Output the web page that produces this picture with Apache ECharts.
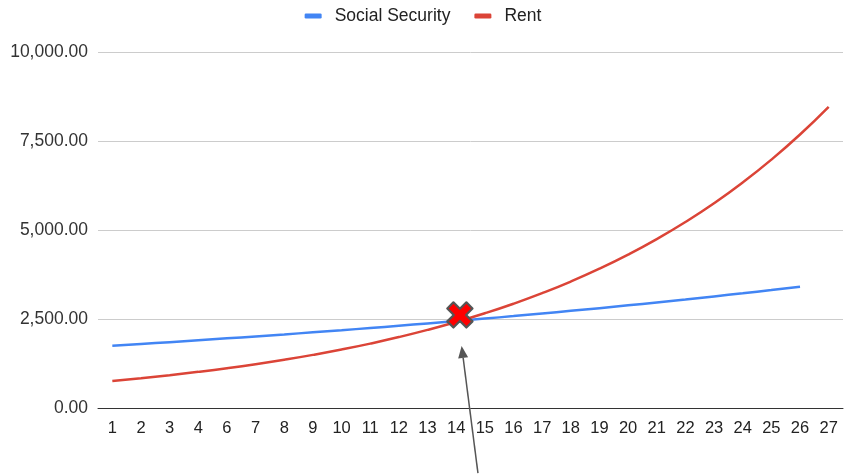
<!DOCTYPE html>
<html>
<head>
<meta charset="utf-8">
<script src="https://cdn.jsdelivr.net/npm/echarts@6/dist/echarts.min.js"></script>
<style>
  html, body { margin: 0; padding: 0; background: #fff; }
  #chart { width: 846px; height: 474px; }
</style>
</head>
<body>
<div id="chart"></div>
<script>
// Period labels along the bottom axis (there is no period 5 in the sheet)
const periods = ['1','2','3','4','6','7','8','9','10','11','12','13','14','15','16','17','18','19','20','21','22','23','24','25','26','27'];

// Monthly Social Security benefit (no value for the last period)
const socialSecurity = [1750, 1799, 1850, 1902, 1956, 2011, 2067, 2126, 2185, 2247, 2310, 2375, 2442,
  2511, 2581, 2654, 2729, 2805, 2884, 2966, 3049, 3135, 3223, 3314, 3407, null];

// Monthly rent
const rent = [760, 837, 922, 1015, 1117, 1230, 1355, 1492, 1643, 1809, 1992, 2194, 2416,
  2660, 2929, 3226, 3552, 3912, 4308, 4744, 5224, 5752, 6335, 6976, 7682, 8460];

// Where the two curves meet (position in period steps, value)
const crossing = [12.13, 2615];

// Pointer arrow to the crossing: from below the axis up to just under the marker
const pointer = { from: [12.76, -1830], to: [12.19, 1740] };

const yTicks = { min: 0, max: 10000, step: 2500 };

const chart = echarts.init(document.getElementById('chart'), null, { renderer: 'canvas' });

const fmt = v => v.toLocaleString('en-US', { minimumFractionDigits: 2, maximumFractionDigits: 2 });

// X marker drawn as a plus rotated by 45 degrees
const crossPath = 'path://M3.4,0 H6.6 V3.4 H10 V6.6 H6.6 V10 H3.4 V6.6 H0 V3.4 H3.4 Z';

chart.setOption({
  animation: false,
  textStyle: { fontFamily: 'Liberation Sans, Arial, sans-serif' },
  legend: {
    top: 2,
    left: 'center',
    itemWidth: 17,
    itemHeight: 5,
    itemGap: 24,
    icon: 'roundRect',
    textStyle: { fontSize: 17.5, color: '#222', padding: [0, 0, 0, 8] },
    data: ['Social Security', 'Rent']
  },
  grid: { left: 98, right: 3, top: 52, bottom: 66, containLabel: false },
  xAxis: [{
    type: 'category',
    data: periods,
    boundaryGap: true,
    axisLine: { lineStyle: { color: '#333', width: 1 } },
    axisTick: { show: false },
    axisLabel: { fontSize: 16.5, color: '#222', margin: 12, interval: 0 }
  }, {
    type: 'value',
    min: -0.5,
    max: periods.length - 0.5,
    show: false
  }],
  yAxis: {
    type: 'value',
    min: yTicks.min,
    max: yTicks.max,
    interval: yTicks.step,
    axisLine: { show: false },
    axisTick: { show: false },
    splitLine: { lineStyle: { color: '#cccccc', width: 1 } },
    axisLabel: { fontSize: 17.5, color: '#333', margin: 10, formatter: fmt }
  },
  series: [{
    name: 'Social Security',
    type: 'line',
    data: socialSecurity,
    smooth: true,
    showSymbol: false,
    symbol: 'none',
    color: '#4285F4',
    lineStyle: { width: 2.5, color: '#4285F4' },
    z: 2
  }, {
    name: 'Rent',
    type: 'line',
    data: rent,
    smooth: true,
    showSymbol: false,
    symbol: 'none',
    color: '#DB4437',
    lineStyle: { width: 2.5, color: '#DB4437' },
    z: 3
  }, {
    type: 'scatter',
    xAxisIndex: 1,
    data: [crossing],
    symbol: crossPath,
    symbolSize: 27,
    symbolRotate: 45,
    itemStyle: { color: '#ff0000', opacity: 1, borderColor: '#555', borderWidth: 2.2, borderJoin: 'round' },
    z: 10,
    silent: true
  }]
});

// Annotation arrow placed through the chart's own data-to-pixel mapping
const p0 = chart.convertToPixel({ xAxisIndex: 1, yAxisIndex: 0 }, pointer.from);
const p1 = chart.convertToPixel({ xAxisIndex: 1, yAxisIndex: 0 }, pointer.to);
const ang = Math.atan2(p1[1] - p0[1], p1[0] - p0[0]);
const headLen = 12, headHalf = 5;
const base = [p1[0] - headLen * Math.cos(ang), p1[1] - headLen * Math.sin(ang)];
const nx = -Math.sin(ang), ny = Math.cos(ang);
chart.setOption({
  graphic: [{
    type: 'line',
    shape: { x1: p0[0], y1: p0[1], x2: base[0], y2: base[1] },
    style: { stroke: '#555', lineWidth: 1.5 },
    silent: true,
    z: 20
  }, {
    type: 'polygon',
    shape: { points: [p1, [base[0] + nx * headHalf, base[1] + ny * headHalf], [base[0] - nx * headHalf, base[1] - ny * headHalf]] },
    style: { fill: '#555' },
    silent: true,
    z: 20
  }]
});
</script>
</body>
</html>
